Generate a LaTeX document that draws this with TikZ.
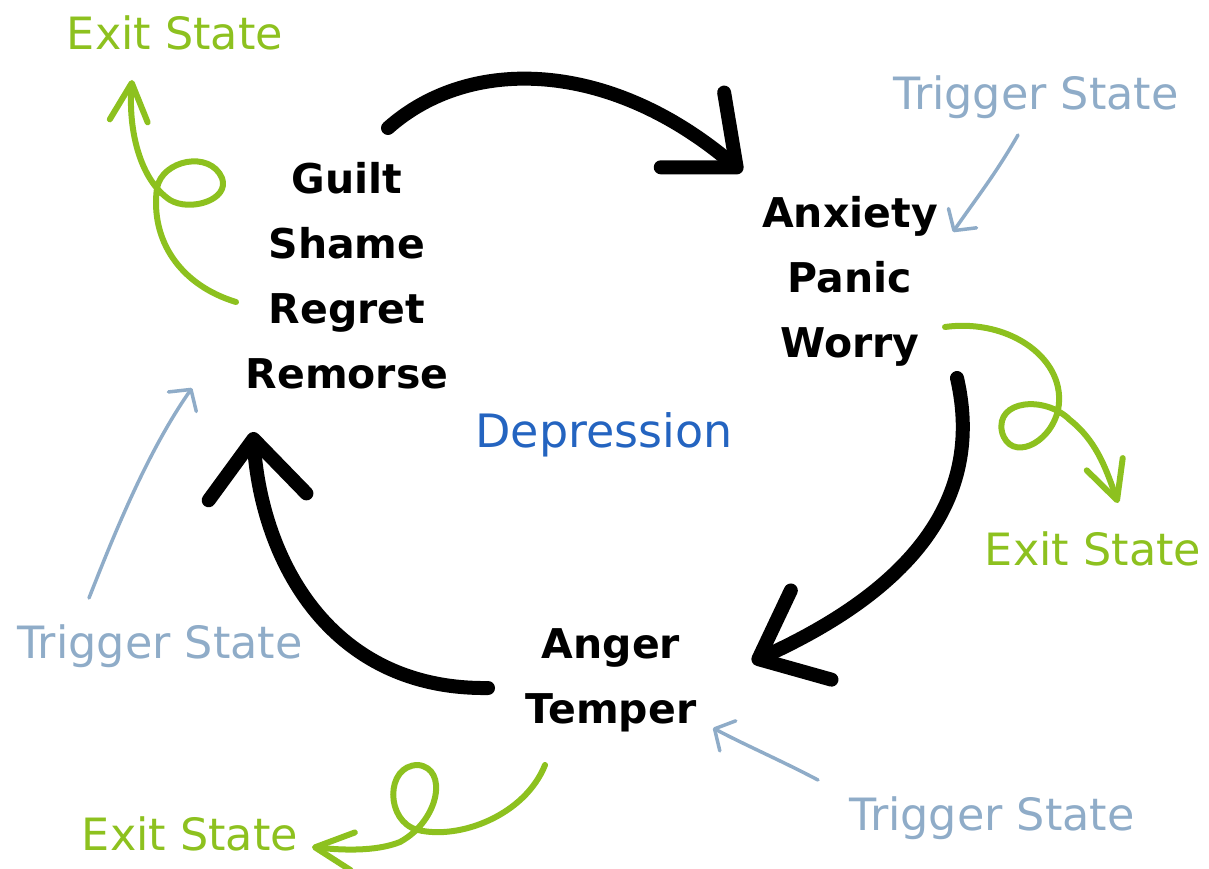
\documentclass[tikz,border=0pt]{standalone}
\usepackage{fontspec}
\setmainfont{DejaVu Sans}
\usepackage{tikz}
\usetikzlibrary{arrows.meta}
\definecolor{exitgreen}{RGB}{141,193,31}
\definecolor{triggerblue}{RGB}{143,172,200}
\definecolor{depblue}{RGB}{36,100,192}

\begin{document}
\begin{tikzpicture}[x=1pt, y=-1pt,
		feeling/.style={align=center, font=\fontsize{41}{65}\selectfont\bfseries},
		exitlabel/.style={anchor=base, text=exitgreen, font=\fontsize{44.5}{56}\selectfont},
		triggerlabel/.style={anchor=base, text=triggerblue, font=\fontsize{44.5}{56}\selectfont},
		cycle/.style={line width=14pt, line cap=round, -{Straight Barb[length=58pt, width=98pt, line width=14pt, round]}},
		exitpath/.style={exitgreen, line width=6pt, line cap=round, -{Straight Barb[length=38pt, width=38pt, line width=6pt, round]}},
		triggerpath/.style={triggerblue, line width=3.5pt, line cap=round, -{Straight Barb[length=15pt, width=34pt, line width=3.5pt, round]}}]
				\useasboundingbox (0, 0) rectangle (1209, 869);
				% the three feelings
				\node[feeling] (guilt) at (347, 276) {Guilt\\Shame\\Regret\\Remorse};
				\node[feeling] (anxiety) at (850, 281) {Anxiety\\Panic\\Worry};
				\node[feeling] (anger) at (611, 680) {Anger\\Temper};
				\node[anchor=base, text=depblue, font=\fontsize{46}{56}\selectfont] (depression) at (604, 447) {Depression};
				% labels round the cycle
				\node[exitlabel] (exitA) at (175, 50) {Exit State};
				\node[exitlabel] (exitB) at (1093, 565) {Exit State};
				\node[exitlabel] (exitC) at (190, 850) {Exit State};
				\node[triggerlabel] (trigA) at (1036, 110) {Trigger State};
				\node[triggerlabel] (trigB) at (160, 658) {Trigger State};
				\node[triggerlabel] (trigC) at (992, 830) {Trigger State};
				% cycle
				\coordinate (guiltOut) at (388, 128);
				\coordinate (anxietyIn) at (742, 172);
				\coordinate (anxietyOut) at (957, 378);
				\coordinate (angerIn) at (752, 662);
				\coordinate (angerOut) at (488, 688);
				\coordinate (guiltIn) at (253, 432);
				\draw[cycle] (guiltOut) .. controls (470, 55) and (610, 60) .. (anxietyIn);
				\draw[cycle] (anxietyOut) .. controls (985, 500) and (910, 590) .. (angerIn);
				\draw[cycle] (angerOut) .. controls (330, 690) and (262, 560) .. (guiltIn);
				% ways out
				\coordinate (guiltExit) at (236, 302);
				\coordinate (exitAtip) at (132, 80);
				\coordinate (anxietyExit) at (945, 327);
				\coordinate (exitBtip) at (1118, 503);
				\coordinate (angerExit) at (545, 765);
				\coordinate (exitCtip) at (312, 847);
				\draw[exitpath] (guiltExit) .. controls (180, 285) and (150, 240) .. (157, 188)
					.. controls (162, 160) and (210, 150) .. (222, 178)
					.. controls (230, 200) and (190, 212) .. (170, 200)
					.. controls (140, 180) and (128, 130) .. (exitAtip);
				\draw[exitpath] (anxietyExit) .. controls (1010, 318) and (1068, 360) .. (1058, 410)
					.. controls (1050, 445) and (1010, 462) .. (1002, 432)
					.. controls (995, 400) and (1045, 395) .. (1070, 420)
					.. controls (1095, 440) and (1105, 465) .. (exitBtip);
				\draw[exitpath] (angerExit) .. controls (525, 815) and (460, 840) .. (418, 830)
					.. controls (385, 822) and (385, 765) .. (418, 765)
					.. controls (448, 768) and (440, 820) .. (400, 842)
					.. controls (375, 852) and (340, 850) .. (exitCtip);
				% ways in
				\coordinate (trigAtail) at (1018, 135);
				\coordinate (anxietyTrig) at (953, 232);
				\coordinate (trigBtail) at (89, 598);
				\coordinate (guiltTrig) at (192, 388);
				\coordinate (trigCtail) at (818, 780);
				\coordinate (angerTrig) at (713, 728);
				\draw[triggerpath] (trigAtail) .. controls (995, 175) and (975, 200) .. (anxietyTrig);
				\draw[triggerpath] (trigBtail) .. controls (110, 545) and (145, 455) .. (guiltTrig);
				\draw[triggerpath] (trigCtail) .. controls (780, 760) and (745, 745) .. (angerTrig);
\end{tikzpicture}
\end{document}
